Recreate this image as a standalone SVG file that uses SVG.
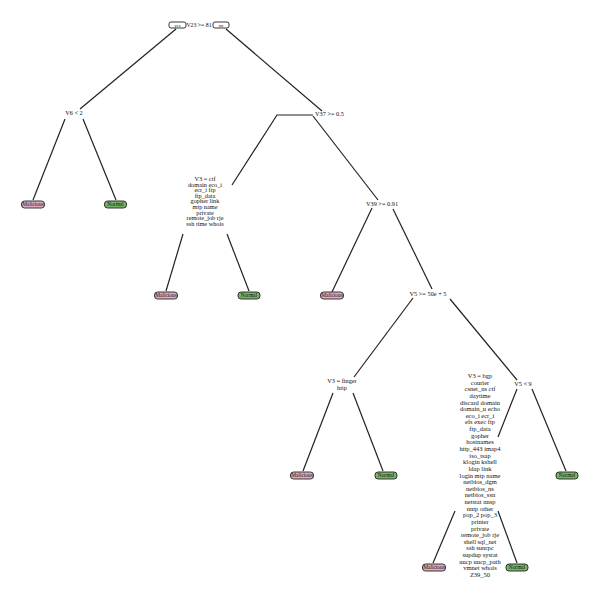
<svg xmlns="http://www.w3.org/2000/svg" width="600" height="599" viewBox="0 0 600 599">
<style>
text{font-family:"Liberation Serif","Times New Roman",serif;fill:#111;text-anchor:middle}
.s{font-size:6.3px}
.r{font-size:5.8px}
.b{font-size:6.5px}
.l{font-size:5.4px}
.yn{font-size:4.6px}
.mal{fill:#dcaec0;stroke:#222;stroke-width:0.9}
.nor{fill:#78b468;stroke:#222;stroke-width:0.9}
.ynb{fill:#fff;stroke:#222;stroke-width:0.9}
#edges polyline{fill:none;stroke:#222;stroke-width:1.2}
</style>
<rect width="600" height="599" fill="#fff"/>
<g id="edges">
<polyline points="176,29 80,109"/>
<polyline points="226,29 322,111"/>
<polyline points="65,119 33,200"/>
<polyline points="83,119 116,200"/>
<polyline points="313,115 277,115 232,185"/>
<polyline points="313,116 378,200"/>
<polyline points="183,234 166,291"/>
<polyline points="227,234 249,291"/>
<polyline points="372,208 332,292"/>
<polyline points="393,209 432,289"/>
<polyline points="413,298 354,377"/>
<polyline points="450,299 517,380"/>
<polyline points="333,393 303,471"/>
<polyline points="353,393 383,471"/>
<polyline points="517,389 498,437"/>
<polyline points="532,389 566,471"/>
<polyline points="455,511 433,563"/>
<polyline points="498,511 517,563"/>
</g>
<g id="n_root">
<rect class="ynb" x="169" y="22" width="17" height="6" rx="2"/>
<text class="yn" x="177.5" y="26.6">yes</text>
<text class="r" x="199" y="27.3">V23 &gt;= 81</text>
<rect class="ynb" x="213" y="22" width="16" height="6" rx="2"/>
<text class="yn" x="221" y="26.6">no</text>
</g>
<g id="n_v6"><text class="s" x="74" y="115">V6 &lt; 2</text></g>
<g id="n_v37"><text class="s" x="329.5" y="116">V37 &gt;= 0.5</text></g>
<g id="n_v3a">
<text class="s" x="205" y="181">V3 = ctf</text>
<text class="s" x="205" y="186.6">domain eco_i</text>
<text class="s" x="205" y="192.2">ecr_i ftp</text>
<text class="s" x="205" y="197.8">ftp_data</text>
<text class="s" x="205" y="203.4">gopher link</text>
<text class="s" x="205" y="209">mtp name</text>
<text class="s" x="205" y="214.6">private</text>
<text class="s" x="205" y="220.2">remote_job rje</text>
<text class="s" x="205" y="225.8">ssh time whois</text>
</g>
<g id="n_v39"><text class="s" x="382" y="206">V39 &gt;= 0.91</text></g>
<g id="n_v5a"><text class="s" x="428" y="296">V5 &gt;= 50e + 5</text></g>
<g id="n_v3b">
<text class="s" x="342" y="383">V3 = finger</text>
<text class="s" x="342" y="390">http</text>
</g>
<g id="n_v5b"><text class="s" x="523" y="386">V5 &lt; 9</text></g>
<g id="n_v3c">
<text class="b" x="480" y="378">V3 = bgp</text>
<text class="b" x="480" y="384.6">courier</text>
<text class="b" x="480" y="391.3">csnet_ns ctf</text>
<text class="b" x="480" y="397.9">daytime</text>
<text class="b" x="480" y="404.5">discard domain</text>
<text class="b" x="480" y="411.2">domain_u echo</text>
<text class="b" x="480" y="417.8">eco_i ecr_i</text>
<text class="b" x="480" y="424.4">efs exec ftp</text>
<text class="b" x="480" y="431">ftp_data</text>
<text class="b" x="480" y="437.7">gopher</text>
<text class="b" x="480" y="444.3">hostnames</text>
<text class="b" x="480" y="450.9">http_443 imap4</text>
<text class="b" x="480" y="457.6">iso_tsap</text>
<text class="b" x="480" y="464.2">klogin kshell</text>
<text class="b" x="480" y="470.8">ldap link</text>
<text class="b" x="480" y="477.5">login mtp name</text>
<text class="b" x="480" y="484.1">netbios_dgm</text>
<text class="b" x="480" y="490.7">netbios_ns</text>
<text class="b" x="480" y="497.3">netbios_ssn</text>
<text class="b" x="480" y="504">netstat nnsp</text>
<text class="b" x="480" y="510.6">nntp other</text>
<text class="b" x="480" y="517.2">pop_2 pop_3</text>
<text class="b" x="480" y="523.9">printer</text>
<text class="b" x="480" y="530.5">private</text>
<text class="b" x="480" y="537.1">remote_job rje</text>
<text class="b" x="480" y="543.8">shell sql_net</text>
<text class="b" x="480" y="550.4">ssh sunrpc</text>
<text class="b" x="480" y="557">supdup systat</text>
<text class="b" x="480" y="563.6">uucp uucp_path</text>
<text class="b" x="480" y="570.3">vmnet whois</text>
<text class="b" x="480" y="576.9">Z39_50</text>
</g>
<g id="leaf1"><rect class="mal" x="21.5" y="201" width="23" height="7" rx="3"/><text class="l" x="33" y="206.4">Malicious</text></g>
<g id="leaf2"><rect class="nor" x="104.5" y="201" width="22" height="7" rx="3"/><text class="l" x="115.5" y="206.4">Normal</text></g>
<g id="leaf3"><rect class="mal" x="154.5" y="292" width="23" height="7" rx="3"/><text class="l" x="166" y="297.4">Malicious</text></g>
<g id="leaf4"><rect class="nor" x="238" y="292" width="22" height="7" rx="3"/><text class="l" x="249" y="297.4">Normal</text></g>
<g id="leaf5"><rect class="mal" x="320.5" y="292" width="23" height="7" rx="3"/><text class="l" x="332" y="297.4">Malicious</text></g>
<g id="leaf6"><rect class="mal" x="290.5" y="472" width="23" height="7" rx="3"/><text class="l" x="302" y="477.4">Malicious</text></g>
<g id="leaf7"><rect class="nor" x="375" y="472" width="22" height="7" rx="3"/><text class="l" x="386" y="477.4">Normal</text></g>
<g id="leaf8"><rect class="nor" x="556" y="472" width="22" height="7" rx="3"/><text class="l" x="567" y="477.4">Normal</text></g>
<g id="leaf9"><rect class="mal" x="422.5" y="564" width="23" height="7" rx="3"/><text class="l" x="434" y="569.4">Malicious</text></g>
<g id="leaf10"><rect class="nor" x="506" y="564" width="22" height="7" rx="3"/><text class="l" x="517" y="569.4">Normal</text></g>
</svg>
